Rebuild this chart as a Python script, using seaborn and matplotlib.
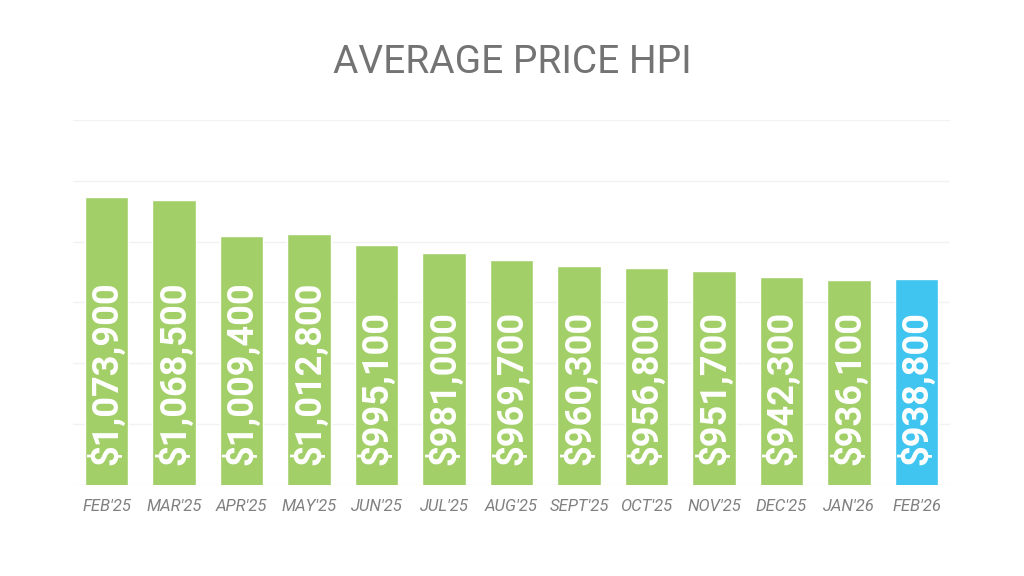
import pandas as pd
import matplotlib
matplotlib.use("Agg")
import matplotlib.pyplot as plt
import seaborn as sns

# Données
months = ["FEB'25", "MAR'25", "APR'25", "MAY'25", "JUN'25", "JUL'25", "AUG'25",
          "SEPT'25", "OCT'25", "NOV'25", "DEC'25", "JAN'26", "FEB'26"]
prices = [1073900, 1068500, 1009400, 1012800, 995100, 981000, 969700,
          960300, 956800, 951700, 942300, 936100, 938800]
bar_colors = ["#a3cf69"] * 12 + ["#40c4f0"]

df = pd.DataFrame({"month": months, "price": prices})

sns.set_theme(style="white")
plt.rcParams["font.family"] = ["Roboto", "DejaVu Sans"]

fig = plt.figure(figsize=(10.24, 5.76), dpi=100)
ax = fig.add_axes([0.071, 0.158, 0.857, 0.634])

sns.barplot(data=df, x="month", y="price", hue="month", palette=bar_colors,
            legend=False, width=0.64, saturation=1, ax=ax)

ax.set_ylim(600000, 1200000)
ax.set_yticks(range(600000, 1200001, 100000))
ax.yaxis.grid(True, color="#f2f2f2", linewidth=1)
ax.set_axisbelow(True)
ax.set_yticklabels([])
ax.tick_params(axis="y", length=0)
ax.tick_params(axis="x", length=0, pad=10)
for lab in ax.get_xticklabels():
    lab.set_fontstyle("italic")
    lab.set_fontsize(12)
    lab.set_color("#808080")
ax.set_xlabel("")
ax.set_ylabel("")
sns.despine(ax=ax, left=True, bottom=True)

# Étiquettes de valeur verticales dans les barres
for i, p in enumerate(prices):
    ax.text(i, 633000, f"${p:,}", rotation=90, ha="center", va="bottom",
            color="white", fontsize=26, fontweight="bold")

fig.text(0.5, 0.892, "AVERAGE PRICE HPI", ha="center", va="center",
         fontsize=28, color="#737373")

fig.savefig("out.png", dpi=100)
